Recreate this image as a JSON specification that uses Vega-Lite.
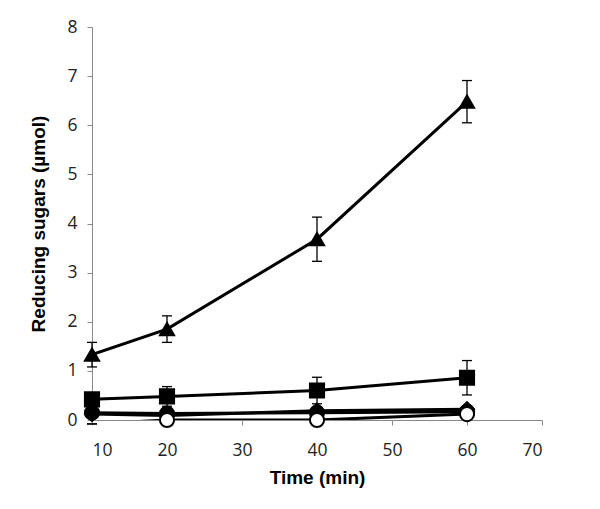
{
  "$schema": "https://vega.github.io/schema/vega-lite/v6.json",
  "autosize": {"type": "none"},
  "padding": {"left": 92, "top": 27, "right": 58, "bottom": 89},
  "width": 450,
  "height": 393,
  "background": "white",
  "config": {"view": {"stroke": null}},
  "data": {"values": [
    {"series": "D", "time": 10, "value": 0.12, "err": 0, "xerr": 0},
    {"series": "D", "time": 20, "value": 0.09, "err": 0, "xerr": 0},
    {"series": "D", "time": 40, "value": 0.19, "err": 0, "xerr": 0},
    {"series": "D", "time": 60, "value": 0.22, "err": 0, "xerr": 0},
    {"series": "C", "time": 10, "value": 0.15, "err": 0, "xerr": 0},
    {"series": "C", "time": 20, "value": 0.13, "err": 0, "xerr": 0},
    {"series": "C", "time": 40, "value": 0.15, "err": 0.05, "xerr": 0},
    {"series": "C", "time": 60, "value": 0.17, "err": 0, "xerr": 0},
    {"series": "E", "time": 10, "value": -0.08, "err": 0, "xerr": 0},
    {"series": "E", "time": 20, "value": 0.0, "err": 0, "xerr": 0},
    {"series": "E", "time": 40, "value": 0.0, "err": 0, "xerr": 0},
    {"series": "E", "time": 60, "value": 0.12, "err": 0, "xerr": 0},
    {"series": "B", "time": 10, "value": 0.42, "err": 0.0, "xerr": 0.8},
    {"series": "B", "time": 20, "value": 0.48, "err": 0.2, "xerr": 0.8},
    {"series": "B", "time": 40, "value": 0.6, "err": 0.27, "xerr": 0.8},
    {"series": "B", "time": 60, "value": 0.86, "err": 0.35, "xerr": 0.8},
    {"series": "A", "time": 10, "value": 1.33, "err": 0.25, "xerr": 0},
    {"series": "A", "time": 20, "value": 1.85, "err": 0.27, "xerr": 0},
    {"series": "A", "time": 40, "value": 3.68, "err": 0.45, "xerr": 0},
    {"series": "A", "time": 60, "value": 6.48, "err": 0.43, "xerr": 0}
  ]},
  "transform": [
    {"calculate": "datum.value - datum.err", "as": "lo"},
    {"calculate": "datum.value + datum.err", "as": "hi"},
    {"calculate": "datum.time - datum.xerr", "as": "xlo"},
    {"calculate": "datum.time + datum.xerr", "as": "xhi"}
  ],
  "encoding": {
    "x": {"field": "time", "type": "quantitative",
      "scale": {"domain": [10, 70], "nice": false, "zero": false},
      "axis": {"values": [10, 20, 30, 40, 50, 60, 70], "title": "Time (min)", "grid": false,
        "domainColor": "#888888", "tickColor": "#888888", "tickSize": 5,
        "labelFont": "Open Sans", "labelFontSize": 17.5, "labelColor": "#222222", "labelPadding": 16,
        "titleFont": "Liberation Sans", "titleFontSize": 19, "titleFontWeight": "bold", "titleColor": "#000000", "titlePadding": 10}},
    "y": {"field": "value", "type": "quantitative",
      "scale": {"domain": [0, 8], "nice": false},
      "axis": {"values": [0, 1, 2, 3, 4, 5, 6, 7, 8], "title": "Reducing sugars (µmol)", "grid": false,
        "domainColor": "#888888", "tickColor": "#888888", "tickSize": 5,
        "labelFont": "Open Sans", "labelFontSize": 17.5, "labelColor": "#222222", "labelPadding": 10,
        "titleFont": "Liberation Sans", "titleFontSize": 19, "titleFontWeight": "bold", "titleColor": "#000000", "titlePadding": 18}}
  },
  "layer": [
    {"mark": {"type": "rule", "color": "black", "strokeWidth": 1.3},
     "encoding": {"y": {"field": "lo", "type": "quantitative"}, "y2": {"field": "hi"}}},
    {"mark": {"type": "tick", "color": "black", "thickness": 1.3, "size": 10, "orient": "horizontal", "opacity": 1},
     "encoding": {"y": {"field": "lo", "type": "quantitative"}}},
    {"mark": {"type": "tick", "color": "black", "thickness": 1.3, "size": 10, "orient": "horizontal", "opacity": 1},
     "encoding": {"y": {"field": "hi", "type": "quantitative"}}},
    {"transform": [{"filter": "datum.xerr > 0"}],
     "mark": {"type": "rule", "color": "black", "strokeWidth": 1.3},
     "encoding": {"x": {"field": "xlo", "type": "quantitative"}, "x2": {"field": "xhi"}}},
    {"mark": {"type": "line", "color": "black", "strokeWidth": 3, "clip": true},
     "encoding": {"detail": {"field": "series"}}},
    {"transform": [{"filter": "datum.value >= 0"}],
     "mark": {"type": "point", "stroke": "black", "strokeWidth": 2, "opacity": 1, "filled": false},
     "encoding": {
       "shape": {"field": "series", "type": "nominal", "legend": null,
         "scale": {"domain": ["A", "B", "C", "D", "E"], "range": ["triangle-up", "square", "circle", "diamond", "circle"]}},
       "fill": {"field": "series", "type": "nominal", "legend": null,
         "scale": {"domain": ["A", "B", "C", "D", "E"], "range": ["black", "black", "black", "white", "white"]}},
       "size": {"field": "series", "type": "nominal", "legend": null,
         "scale": {"domain": ["A", "B", "C", "D", "E"], "range": [200, 200, 190, 130, 160]}}
     }}
  ]
}
